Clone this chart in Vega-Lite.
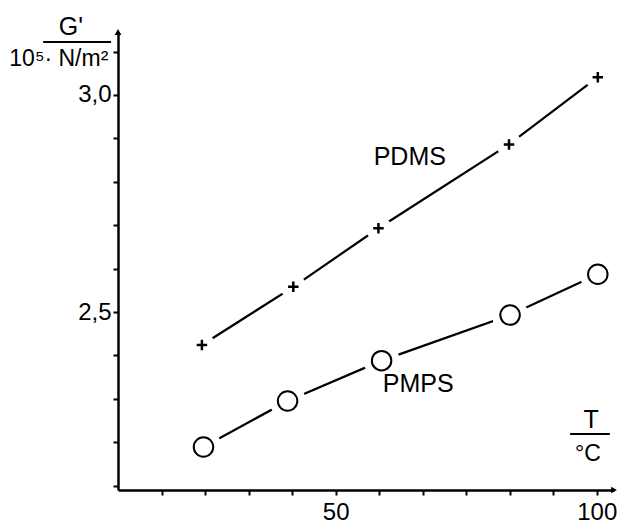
{
  "$schema": "https://vega.github.io/schema/vega-lite/v6.json",
  "width": 496,
  "height": 458,
  "autosize": {"type": "none"},
  "padding": {"left": 118, "top": 32, "right": 17, "bottom": 40},
  "background": "white",
  "config": {
    "view": {"stroke": null},
    "font": "Liberation Sans",
    "axis": {
      "grid": false,
      "domainColor": "black",
      "domainWidth": 2.5,
      "tickColor": "black",
      "tickWidth": 2,
      "tickSize": 5,
      "labelColor": "black",
      "labelFont": "Liberation Sans",
      "labelFontSize": 24,
      "title": null
    }
  },
  "datasets": {
    "series": [
      {"polymer": "PDMS", "T": 24.4, "G": 2.424},
      {"polymer": "PDMS", "T": 41.9, "G": 2.558},
      {"polymer": "PDMS", "T": 58.2, "G": 2.693},
      {"polymer": "PDMS", "T": 83.2, "G": 2.886},
      {"polymer": "PDMS", "T": 100.2, "G": 3.041},
      {"polymer": "PMPS", "T": 24.7, "G": 2.189},
      {"polymer": "PMPS", "T": 40.8, "G": 2.295},
      {"polymer": "PMPS", "T": 58.8, "G": 2.388},
      {"polymer": "PMPS", "T": 83.4, "G": 2.493},
      {"polymer": "PMPS", "T": 100.2, "G": 2.587}
    ],
    "labels": [
      {"text": "PDMS", "T": 64.2, "G": 2.857},
      {"text": "PMPS", "T": 65.8, "G": 2.334},
      {"text": "G'", "T": -0.7, "G": 3.157},
      {"text": "T", "T": 98.9, "G": 2.252}
    ],
    "units": [
      {"text": "10⁵· N/m²", "T": -3.0, "G": 3.083},
      {"text": "°C", "T": 98.3, "G": 2.172}
    ],
    "bars": [
      {"T": -6.0, "T2": 7.0, "G": 3.122},
      {"T": 94.9, "T2": 102.5, "G": 2.219}
    ],
    "arrows": [
      {"dir": "right", "T": 103.3, "G": 2.09},
      {"dir": "up", "T": 8.333, "G": 3.145}
    ]
  },
  "data": {"name": "series"},
  "encoding": {
    "x": {
      "field": "T",
      "type": "quantitative",
      "scale": {"domain": [8.333, 103.3], "nice": false, "zero": false},
      "axis": {
        "values": [16.667, 25, 33.333, 41.667, 50, 58.333, 66.667, 75, 83.333, 91.667, 100],
        "labelExpr": "abs(datum.value-50)<0.01 || abs(datum.value-100)<0.01 ? format(datum.value,'d') : ''",
        "labelPadding": 5,
        "labelFlush": false
      }
    },
    "y": {
      "field": "G",
      "type": "quantitative",
      "scale": {"domain": [2.09, 3.145], "nice": false, "zero": false},
      "axis": {
        "values": [2.1, 2.2, 2.3, 2.4, 2.5, 2.6, 2.7, 2.8, 2.9, 3.0, 3.1],
        "labelExpr": "abs(datum.value-2.5)<0.001 || abs(datum.value-3)<0.001 ? replace(format(datum.value,'.1f'),'.',',') : ''",
        "labelPadding": 2,
        "labelFlush": false
      }
    }
  },
  "layer": [
    {
      "mark": {"type": "line", "color": "black", "strokeWidth": 2.2},
      "encoding": {"detail": {"field": "polymer"}}
    },
    {
      "transform": [{"filter": "datum.polymer === 'PDMS'"}],
      "mark": {"type": "circle", "color": "white", "opacity": 1, "size": 650}
    },
    {
      "transform": [{"filter": "datum.polymer === 'PMPS'"}],
      "mark": {"type": "circle", "color": "white", "opacity": 1, "size": 1300}
    },
    {
      "transform": [{"filter": "datum.polymer === 'PDMS'"}],
      "mark": {"type": "point", "shape": "M-1,0L1,0M0,-1L0,1", "filled": false, "stroke": "black", "strokeWidth": 2.5, "opacity": 1, "size": 110}
    },
    {
      "transform": [{"filter": "datum.polymer === 'PMPS'"}],
      "mark": {"type": "point", "shape": "circle", "filled": false, "fill": "white", "stroke": "black", "strokeWidth": 2, "opacity": 1, "size": 380}
    },
    {
      "data": {"name": "labels"},
      "mark": {"type": "text", "fontSize": 25, "color": "black", "align": "center", "baseline": "middle"},
      "encoding": {"text": {"field": "text"}}
    },
    {
      "data": {"name": "units"},
      "mark": {"type": "text", "fontSize": 23, "color": "black", "align": "center", "baseline": "middle"},
      "encoding": {"text": {"field": "text"}}
    },
    {
      "data": {"name": "bars"},
      "mark": {"type": "rule", "color": "black", "strokeWidth": 2},
      "encoding": {"x2": {"field": "T2"}}
    },
    {
      "data": {"name": "arrows"},
      "mark": {"type": "point", "filled": true, "color": "black", "opacity": 1, "size": 45},
      "encoding": {
        "shape": {
          "field": "dir",
          "type": "nominal",
          "scale": {"domain": ["right", "up"], "range": ["triangle-right", "triangle-up"]},
          "legend": null
        }
      }
    }
  ]
}
